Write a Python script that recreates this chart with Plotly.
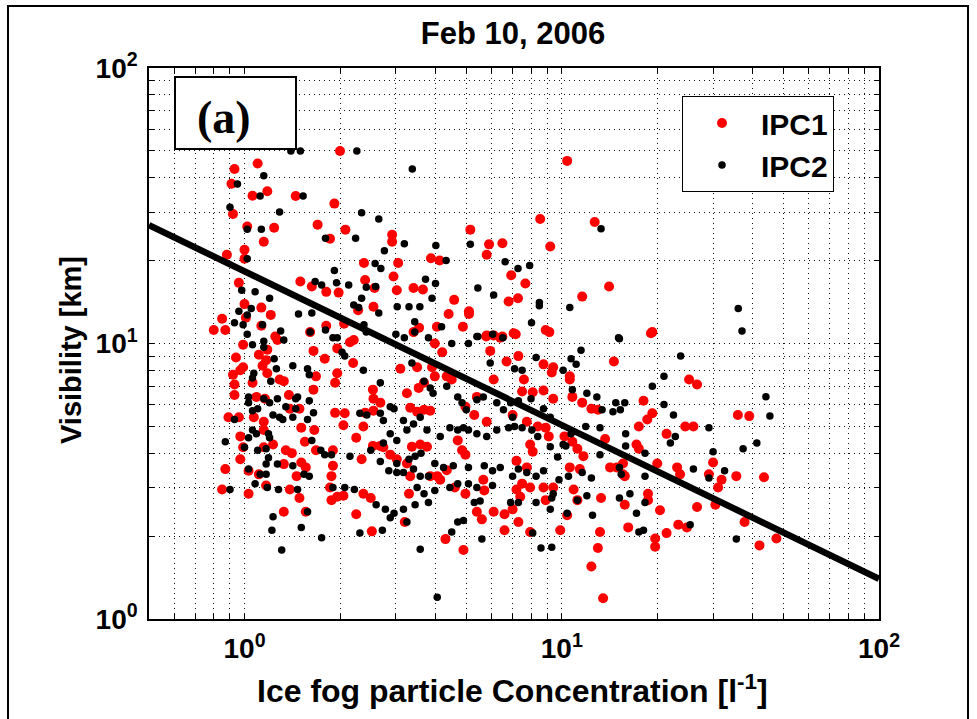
import plotly.graph_objects as go
import math

# ---------------- data ----------------
ipc1_points = [
    (2.0,50),(10.4,46),(0.93,43),(1.1,45),(0.91,38),(1.06,34.4),(1.18,35.7),(1.45,34.3),(1.92,32.2),(0.92,29.5),
    (1.02,26.6),(1.24,26.3),(1.15,23.4),(1.70,27),(2.08,25.9),(1.86,24),(2.92,24.8),(2.92,23.4),(3.05,19.6),(2.38,19.6),
    (2.95,17.5),(5.15,25.9),(5.9,22.9),(6.5,23.1),(5.8,21),(8.55,28.3),(9.2,22.5),(12.7,27.6),(3.87,20.4),(4.12,20),
    (1.0,21.9),(1.0,20.3),(0.88,21.0),(0.96,16.6),(1.5,16.8),(1.63,16.1),(1.81,15.4),(1.98,15.3),(2.4,17.0),(2.57,15.9),
    (3.02,15.6),(3.41,15.9),(3.65,15.7),(6.93,17.7),(7.68,16.5),(4.58,14.4),(6.8,14.2),(7.28,14.6),(14.1,16.1),(11.6,14.8),
    (2.55,13.6),(2.28,13.2),(4.4,12.8),(5.1,13.1),(5.1,12.8),(1.0,13.9),(1.13,13.5),(1.21,12.7),(1.01,12.4),(0.85,12.3),
    (0.80,11.2),(0.87,11.2),(1.13,11.6),(1.25,10.6),(1.61,11.0),(1.81,11.6),(2.06,11.8),(2.21,10.3),(3.41,11.0),(3.55,11.4),
    (4.04,11.5),(4.88,11.5),(5.78,10.6),(6.5,10.6),(7.16,10.8),(9.14,11.0),(19.1,10.9),
    (0.99,9.9),(0.94,8.9),(0.99,8.2),(0.97,8.0),(0.92,7.7),(1.14,8.3),(1.17,8.7),(1.18,7.8),(1.27,10.3),(1.29,7.4),
    (1.33,7.3),(0.93,7.1),(0.93,6.5),(1.06,7.2),(1.09,6.4),(1.16,6.3),(1.38,6.5),(1.39,5.8),(1.49,5.8),(0.89,5.4),
    (0.96,5.4),(1.07,5.4),(1.15,5.2),(1.15,4.85),(1.15,4.2),(1.23,4.3),(1.51,4.95),(1.55,4.4),(1.66,4.85),(1.68,4.1),
    (0.97,4.6),(0.99,4.2),(1.35,4.1),(1.41,4.0),(1.33,3.65),(0.97,3.8),(0.87,3.5),(1.03,3.45),(0.85,2.95),(1.03,2.85),
    (1.11,3.35),(1.17,3.05),(1.46,3.3),(1.51,3.7),(1.56,3.55),(1.39,2.95),(1.49,2.75),(1.88,3.3),(1.88,2.7),(1.33,2.45),
    (1.56,2.45),(1.11,9.1),(1.18,9.5),(1.65,9.4),(1.79,8.8),(1.65,6.8),(1.68,7.6),
    (2.15,10.1),(1.96,9.6),(2.2,8.5),(1.96,7.8),(1.93,7.2),(2.54,6.8),(2.55,6.3),(2.68,6.1),(2.55,5.7),(2.4,5.6),
    (2.07,5.58),(1.93,5.6),(2.05,5.05),(2.25,4.55),(2.37,5.0),(1.9,4.1),(1.9,3.6),(1.86,3.0),(2.34,3.8),(2.54,4.25),
    (2.68,4.25),(2.74,4.2),(2.88,3.95),(3.02,3.8),(3.25,3.67),(3.37,4.22),(3.58,4.3),(3.76,4.22),(3.1,8.1),(3.5,8.2),
    (3.9,8.2),(4.2,9.3),(3.98,10.0),(3.25,6.6),(3.54,6.9),(3.68,7.2),(3.98,7.6),(4.34,7.6),(4.5,7.4),(4.97,5.9),
    (5.4,6.4),(5.3,5.5),(5.8,5.2),(6.1,7.4),(3.33,5.85),(3.5,5.65),(3.68,5.75),(3.85,5.7),(4.7,4.45),(4.85,4.1),
    (4.97,3.95),(4.34,3.47),(3.33,3.3),(3.85,3.3),(4.05,3.3),(4.14,3.2),(5.66,3.2),(5.7,2.93),(4.97,2.85),(4.6,3.0),
    (3.3,2.85),(2.37,2.85),(2.5,2.75),(2.05,2.8),(1.96,2.78),(2.25,2.4),(2.52,2.08),(3.2,2.25),(4.3,1.95),(4.9,1.78),
    (5.4,2.45),(5.6,2.3),(6.1,2.45),(6.6,2.4),(6.6,2.1),(5.8,10.7),(6.1,10.7),(6.4,10.5),(5.95,9.4),(6.7,8.6),
    (7.05,10.9),(8.9,11.2),(19.3,11.0),(7.3,9.0),(8.76,8.4),(9.4,8.2),(9.3,7.85),(7.6,7.4),(10.6,7.4),(10.6,7.6),
    (14.6,8.6),(25.2,7.4),(7.5,6.7),(8.1,6.65),(8.76,6.75),(9.4,6.3),(10.8,6.4),(11.6,6.1),(12.4,5.8),(13.0,5.75),
    (18.1,6.2),(19.3,5.58),(18.6,5.3),(17.5,5.0),(21.4,4.7),(24.5,5.0),(26.0,5.0),(7.0,5.5),(7.76,5.2),(8.4,5.0),
    (8.9,4.95),(9.1,4.6),(10.2,4.6),(10.8,4.4),(11.2,4.15),(11.7,3.9),(10.6,3.55),(11.4,3.5),(13.7,4.5),(14.2,3.55),
    (14.9,3.55),(15.6,3.67),(15.6,3.35),(15.8,3.3),(17.2,4.3),(17.5,4.15),(20.0,3.67),(23.1,3.55),(23.6,3.35),(7.95,4.3),
    (8.1,4.05),(7.2,3.75),(7.76,3.55),(7.5,3.1),(7.2,2.95),(7.95,3.0),(7.4,2.78),(7.0,2.5),(7.3,2.25),(7.95,2.07),
    (8.76,3.0),(9.4,3.0),(8.9,2.7),(10.9,2.95),(11.2,2.7),(10.4,2.38),(13.3,2.75),(15.8,2.6),(18.7,2.85),(18.7,2.7),
    (20.4,2.48),(9.89,2.1),(13.2,2.07),(13.0,1.81),(12.4,1.55),(13.5,1.19),(16.2,2.15),(21.4,2.05),(19.7,1.96),(19.7,1.83),
    (23.3,2.2),(24.8,2.15),
    (26.7,7.1),(35.9,5.5),(39,5.45),(30,3.7),(29.1,3.35),(31.9,3.2),(31.1,3.0),(35.5,3.3),(43.4,3.27),(26.7,2.55),
    (30.5,2.6),(37.7,2.25),(47.5,1.96),(42,1.85),
]

ipc2_points = [
    (1.40,50),(1.50,50),(2.26,50),(3.38,43),(1.15,40.6),(0.95,37.9),(0.90,31.2),(1.12,34.3),(1.53,34.3),(1.29,30),
    (2.34,29.8),(2.65,28.3),(1.02,26),(1.13,26),(1.80,24.1),(2.24,24.1),(3.19,23),(4.01,22.7),(5.15,22.9),(2.76,21.7),
    (13.3,26.1),(1.02,20.3),(4.32,20),(6.63,19.8),(7.92,19.2),(7.28,18.7),(2.58,19.5),(2.69,18.7),(1.92,18.4),(3.72,17.1),
    (1.95,16.6),(1.67,16.8),(1.75,16.3),(2.13,16.3),(2.42,16.0),(2.59,16.1),(4.0,16.5),(5.44,15.9),(6.1,15.0),(3.9,14.6),
    (8.5,14.1),(8.5,13.7),(10.6,13.5),(36,13.4),(37,11.1),(15.1,10.5),(3.3,13.6),(3.57,13.6),(3.03,13.6),(2.34,14.6),
    (2.21,13.8),(2.29,13.5),(2.65,12.9),(1.48,12.8),(1.63,12.9),(1.2,14.6),(1.08,15.4),(0.98,15.6),(0.96,13.1),(1.05,13.4),
    (1.02,12.7),(0.93,11.9),(0.99,11.7),(1.02,10.8),(1.14,11.7),(1.3,11.1),(1.61,11.0),(1.8,11.2),(1.9,10.5),(2.38,11.7),
    (2.42,11.0),(3.44,12.0),(3.44,11.0),(4.18,11.5),(3.0,10.8),(3.19,10.5),(3.8,10.5),(5.44,10.6),(6.06,10.8),(6.52,10.5),
    (8.03,11.9),
    (1.06,9.9),(1.15,10.2),(1.33,10.3),(1.15,9.7),(1.24,8.8),(1.42,8.3),(1.58,8.1),(1.6,7.7),(1.26,8.1),(1.21,7.3),
    (1.07,7.8),(1.06,7.5),(1.03,6.4),(1.03,6.1),(1.06,5.7),(1.10,5.8),(1.15,6.3),(1.2,6.1),(1.27,6.3),(1.35,5.9),
    (1.23,5.5),(1.29,5.4),(1.32,5.3),(1.42,5.4),(1.45,5.8),(1.45,6.3),(1.47,6.4),(1.6,6.2),(1.65,5.6),(1.58,5.3),
    (0.93,5.3),(0.87,4.4),(1.03,4.55),(1.0,4.2),(1.06,4.85),(1.09,4.7),(1.10,4.1),(1.17,4.15),(1.2,4.55),(1.19,4.7),
    (1.63,4.45),(1.74,4.1),(1.79,3.95),(1.88,3.95),(1.19,3.85),(1.27,3.65),(1.17,3.65),(1.12,3.35),(1.17,3.35),(1.03,3.5),
    (1.08,3.1),(1.18,3.0),(1.28,2.95),(1.47,2.95),(1.42,3.6),(1.54,3.35),(1.6,3.3),(0.9,2.95),(1.58,2.45),(1.23,2.35),
    (1.22,2.1),(1.51,2.15),(1.75,1.97),(1.31,1.78),
    (1.96,10.5),(2.03,9.3),(2.07,9.0),(2.37,8.0),(2.68,7.2),(2.88,5.9),(3.37,8.5),(3.68,7.3),(3.85,6.9),(3.93,6.6),
    (4.5,10.0),(5.08,10.0),(5.4,10.6),(5.95,8.5),(4.34,7.0),(4.7,6.4),(4.85,6.1),(5.0,5.75),(5.4,6.25),(5.66,6.4),
    (6.24,6.1),(6.55,5.75),(7.0,5.4),(2.31,5.58),(2.43,5.5),(2.68,5.58),(2.74,5.25),(2.96,5.8),(3.17,5.25),(3.25,4.85),
    (3.41,5.1),(3.58,5.4),(3.76,4.85),(4.14,4.6),(4.44,4.95),(4.7,4.85),(4.9,4.95),(5.08,4.85),(5.4,4.7),(5.8,4.6),
    (6.24,4.85),(6.8,4.95),(2.88,4.7),(3.02,4.45),(2.74,4.35),(2.15,3.9),(2.5,4.1),(2.68,3.73),(3.02,3.67),(3.3,3.8),
    (3.45,3.9),(3.6,4.0),(3.98,3.67),(4.24,3.55),(4.55,3.6),(5.08,3.55),(5.7,3.6),(6.05,3.45),(6.4,3.55),(2.85,3.45),
    (3.02,3.4),(3.17,3.4),(3.41,3.5),(3.58,3.3),(3.8,3.3),(4.44,3.0),(4.7,3.1),(5.08,3.1),(5.4,3.0),(6.05,3.05),
    (1.9,3.0),(2.07,3.0),(2.22,2.95),(3.5,3.0),(3.68,2.85),(3.98,2.93),(3.8,2.65),(5.3,2.65),(5.53,2.68),(2.6,2.6),
    (2.78,2.5),(2.96,2.42),(2.88,2.33),(2.72,2.1),(2.31,2.05),(3.17,2.5),(3.25,2.25),(3.45,2.6),(4.7,2.25),(4.9,2.28),
    (4.5,2.07),(5.6,1.95),(3.58,1.79),(4.05,1.2),
    (15.2,10.4),(11.5,9.45),(10.7,8.8),(11.1,8.4),(10.1,8.0),(8.3,8.9),(7.5,8.0),(7.1,8.1),(23.7,9.0),(21.0,7.6),
    (19.3,7.0),(10.8,6.8),(12.0,6.6),(12.9,6.4),(13.4,5.75),(14.8,6.1),(15.8,6.1),(15.3,5.75),(14.5,5.65),(21.0,6.0),
    (22.5,5.5),(22.8,4.6),(22.0,4.35),(6.9,6.1),(7.3,6.2),(8.0,6.3),(8.76,5.8),(9.2,5.4),(7.1,5.0),(7.5,4.95),
    (8.05,4.85),(8.4,4.6),(9.2,4.22),(9.7,3.87),(10.1,4.3),(10.3,4.25),(10.7,4.7),(11.9,5.0),(13.2,4.95),(13.2,3.95),
    (15.9,4.7),(15.9,4.25),(18.3,4.0),(18.3,3.3),(15.2,3.55),(15.4,3.35),(7.0,3.3),(7.3,3.5),(7.76,3.4),(8.3,3.3),
    (8.76,3.45),(9.8,3.2),(10.5,3.3),(11.6,3.4),(12.4,3.25),(6.9,2.65),(7.3,2.65),(8.3,2.65),(9.2,2.5),(9.4,2.85),
    (9.3,2.75),(12.0,2.8),(11.2,2.7),(15.2,2.75),(16.4,2.85),(18.3,2.65),(17.2,2.42),(10.4,2.42),(12.5,2.38),(18.1,2.1),
    (17.5,2.07),(25.4,2.2),(8.1,2.05),(8.6,1.81),(9.3,1.82),
    (44,6.41),(45.3,5.45),(29.1,4.95),(30,4.05),(37.3,4.15),(41.2,4.35),(26,3.5),(32.6,3.45),(29.1,3.25),(35.5,1.95),
]

fit_x = [0.5, 100]
fit_y = [26.9, 1.40]

x_tick_vals = [0.5, 0.6, 0.7, 0.8, 0.9, 1, 2, 3, 4, 5, 6, 7, 8, 9, 10,
               20, 30, 40, 50, 60, 70, 80, 90, 100]
y_tick_vals = [1, 2, 3, 4, 5, 6, 7, 8, 9, 10, 20, 30, 40, 50, 60, 70, 80, 90, 100]
decade_labels = {1: "<b>10<sup>0</sup></b>", 10: "<b>10<sup>1</sup></b>", 100: "<b>10<sup>2</sup></b>"}

title_text = "Feb 10, 2006"
x_title = "Ice fog particle Concentration [l<sup>-1</sup>]"
y_title = "Visibility [km]"
panel_label = "(a)"

# ---------------- figure ----------------
ipc1_x, ipc1_y = zip(*ipc1_points)
ipc2_x, ipc2_y = zip(*ipc2_points)

SANS = "Liberation Sans, Arial, Helvetica, sans-serif"

fig = go.Figure()
fig.add_trace(go.Scatter(x=ipc1_x, y=ipc1_y, mode="markers", name="<b>IPC1</b>",
                         marker=dict(color="#ff0000", size=10, line=dict(width=0))))
fig.add_trace(go.Scatter(x=ipc2_x, y=ipc2_y, mode="markers", name="<b>IPC2</b>",
                         marker=dict(color="#000000", size=7.5, line=dict(width=0))))
fig.add_trace(go.Scatter(x=fit_x, y=fit_y, mode="lines", showlegend=False,
                         line=dict(color="black", width=6.5)))

L, R, T, B = 149, 879, 68, 619
W, H = 977, 719
pw, ph = R - L, B - T

def px(xp):
    return (xp - L) / pw

def py(yp):
    return (B - yp) / ph

axis_common = dict(
    type="log", showgrid=True, gridcolor="#111111", gridwidth=1, griddash="1px,4px",
    ticks="inside", ticklen=5, tickcolor="black", tickwidth=1,
    showline=True, linecolor="black", linewidth=1.5, mirror="ticks",
    zeroline=False, tickfont=dict(family=SANS, size=28, color="black"),
)

fig.update_xaxes(range=[math.log10(0.5), 2], tickvals=x_tick_vals,
                 ticktext=[decade_labels.get(v, "") for v in x_tick_vals],
                 ticklabelstandoff=4, **axis_common)
fig.update_yaxes(range=[0, 2], tickvals=y_tick_vals,
                 ticktext=[decade_labels.get(v, "") for v in y_tick_vals],
                 ticklabelstandoff=4, **axis_common)

fig.update_layout(
    width=W, height=H,
    margin=dict(l=L, r=W - R, t=T, b=H - B, pad=0),
    paper_bgcolor="white", plot_bgcolor="white",
    title=dict(text="<b>" + title_text + "</b>", xref="paper", x=px(513), xanchor="center",
               y=1 - 33 / H, yanchor="middle", yref="container",
               font=dict(family=SANS, size=31, color="black")),
    legend=dict(x=px(682), y=py(96), xanchor="left", yanchor="top",
                bgcolor="white", bordercolor="black", borderwidth=1,
                font=dict(family=SANS, size=30, color="black"),
                itemwidth=68, tracegroupgap=0),
    showlegend=True,
    shapes=[
        dict(type="rect", xref="paper", yref="paper",
             x0=px(175), x1=px(296), y0=py(149), y1=py(77),
             line=dict(color="black", width=2), fillcolor="white", layer="above"),
        dict(type="rect", xref="paper", yref="paper",
             x0=px(8), x1=px(968), y0=py(740), y1=py(6),
             line=dict(color="black", width=2), fillcolor="rgba(0,0,0,0)", layer="above"),
    ],
    annotations=[
        dict(text="<b>" + panel_label + "</b>", xref="paper", yref="paper",
             x=px(224), y=py(117), xanchor="center", yanchor="middle", showarrow=False,
             font=dict(family="Liberation Serif, Times New Roman, serif", size=46, color="black")),
        dict(text="<b>" + x_title + "</b>", xref="paper", yref="paper",
             x=px(512), y=py(689), xanchor="center", yanchor="middle", showarrow=False,
             font=dict(family=SANS, size=32, color="black")),
        dict(text="<b>" + y_title + "</b>", xref="paper", yref="paper",
             x=px(71), y=py(350), xanchor="center", yanchor="middle", showarrow=False,
             textangle=-90, font=dict(family=SANS, size=29, color="black")),
    ],
)

fig.write_html("out.html", config={"displayModeBar": False},
               post_script="document.body.style.margin='0';document.body.style.overflow='hidden';")
